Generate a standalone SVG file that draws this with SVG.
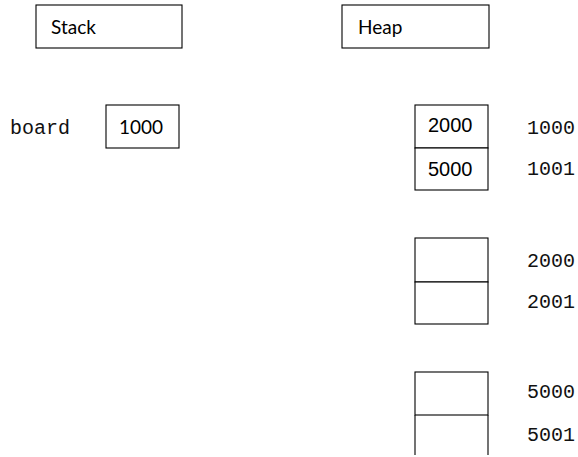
<svg xmlns="http://www.w3.org/2000/svg" width="578" height="457" viewBox="0 0 578 457">
<style>
.box{fill:#fff;stroke:#000;stroke-width:1.1}
.lbl{font-family:Lato,"Liberation Sans",sans-serif;font-size:19px;fill:#000}
.val{font-family:"Liberation Sans",Arial,sans-serif;font-size:20px;fill:#000}
.mono{font-family:"Liberation Mono","Courier New",monospace;font-size:20px;fill:#111}
</style>
<rect width="578" height="457" fill="#fff"/>
<g id="stack-title"><rect class="box" x="36" y="5" width="146" height="43"/><text class="lbl" x="51" y="34">Stack</text></g>
<g id="heap-title"><rect class="box" x="342" y="5" width="147" height="43"/><text class="lbl" x="358" y="34">Heap</text></g>
<g id="board"><text class="mono" x="10" y="134" font-size="21">board</text><rect class="box" x="106" y="105" width="73" height="43"/><text class="lbl" x="119" y="134" font-size="21">1000</text></g>
<g id="heap-1000"><rect class="box" x="415" y="105" width="73" height="43"/><text class="val" x="428" y="132">2000</text><text class="mono" x="527" y="134">1000</text></g>
<g id="heap-1001"><rect class="box" x="415" y="148" width="73" height="42"/><text class="val" x="428" y="176">5000</text><text class="mono" x="527" y="175">1001</text></g>
<g id="heap-2000"><rect class="box" x="415" y="238" width="73" height="44"/><text class="mono" x="527" y="267">2000</text></g>
<g id="heap-2001"><rect class="box" x="415" y="282" width="73" height="42"/><text class="mono" x="527" y="308">2001</text></g>
<g id="heap-5000"><rect class="box" x="415" y="372" width="73" height="43"/><text class="mono" x="527" y="398">5000</text></g>
<g id="heap-5001"><path d="M415,415 V455 M488,415 V455" stroke="#000" stroke-width="1.1" fill="none"/><text class="mono" x="527" y="441">5001</text></g>
<g id="connectors"></g>
</svg>
